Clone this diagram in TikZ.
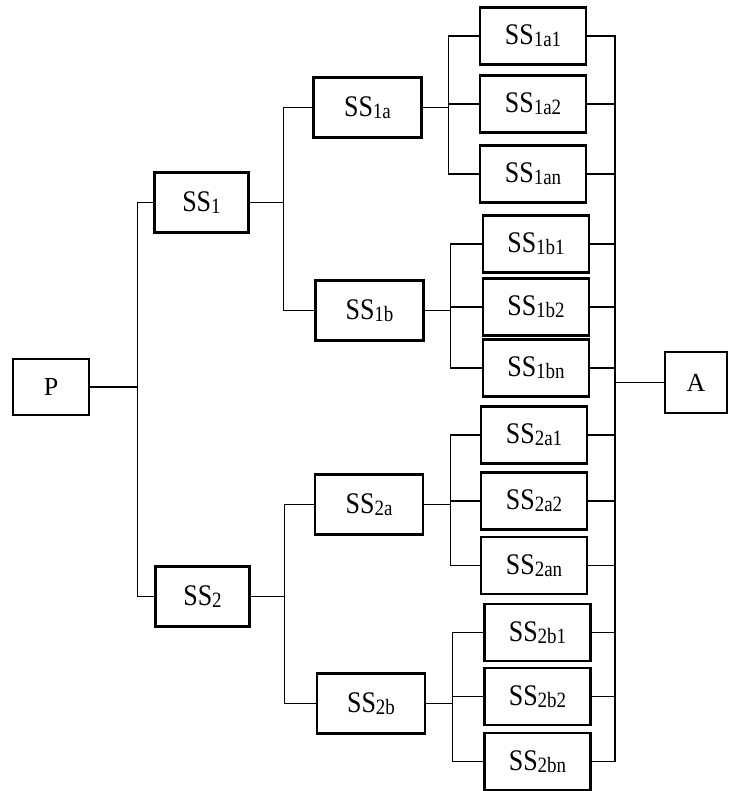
\documentclass[tikz,border=0pt]{standalone}
\usepackage{graphicx}
\usepackage{fontspec}
\setmainfont{Liberation Serif}
\newcommand\subsys[1]{\scalebox{1}[1.15]{SS\raisebox{-1.5pt}{\fontsize{19}{19}\selectfont #1}}}

\begin{document}
\begin{tikzpicture}[x=1pt,y=-1pt,
  box/.style={draw,line width=2.4pt,inner sep=0pt,minimum height=58pt,font=\fontsize{26}{30}\selectfont},
  link/.style={line width=1.1pt}]
\useasboundingbox (0,0) rectangle (728,791);
\node[box,minimum width=76pt,minimum height=56pt] (P) at (51,387) {P};
\node[box,minimum width=62pt,minimum height=61pt] (A) at (696,382.5) {A};
\node[box,minimum width=94pt,minimum height=60pt] (SS1) at (201.5,202.5) {\subsys{1}};
\node[box,minimum width=94pt,minimum height=60pt] (SS2) at (202.5,596.5) {\subsys{2}};
\foreach \p/\n in {{(367.5,107.5)}/1a,{(369.5,310.5)}/1b,{(369,504.5)}/2a,{(371,703.5)}/2b}
  \node[box,minimum width=108pt,minimum height=60pt] (SS\n) at \p {\subsys{\n}};
\foreach \p/\n in {{(533,36)}/1a1,{(533,104)}/1a2,{(533,174)}/1an,
                   {(536,244)}/1b1,{(536,307)}/1b2,{(536,368)}/1bn,
                   {(534,435)}/2a1,{(534,501)}/2a2,{(534,565.5)}/2an,
                   {(537.5,632.5)}/2b1,{(537.5,696.5)}/2b2,{(537.5,761.5)}/2bn}
  \node[box,minimum width=106pt,minimum height=57pt] (SS\n) at \p {\subsys{\n}};
\coordinate (bus) at (615,382.5);
% tree lines
\foreach \i in {1,2} \draw[link] (P.east) -- ++(47,0) |- (SS\i.west);
\foreach \i in {1,2} \foreach \j in {a,b}
  \draw[link] (SS\i.east) -- ++(34,0) |- (SS\i\j.west);
\foreach \i in {1,2} \foreach \j in {a,b} \foreach \k in {1,2,n}
  {\draw[link] (SS\i\j.east) -- ++(26,0) |- (SS\i\j\k.west);
   \draw[link] (SS\i\j\k.east) -| (bus);}
\draw[link] (bus) -- (A.west);
\end{tikzpicture}
\end{document}
